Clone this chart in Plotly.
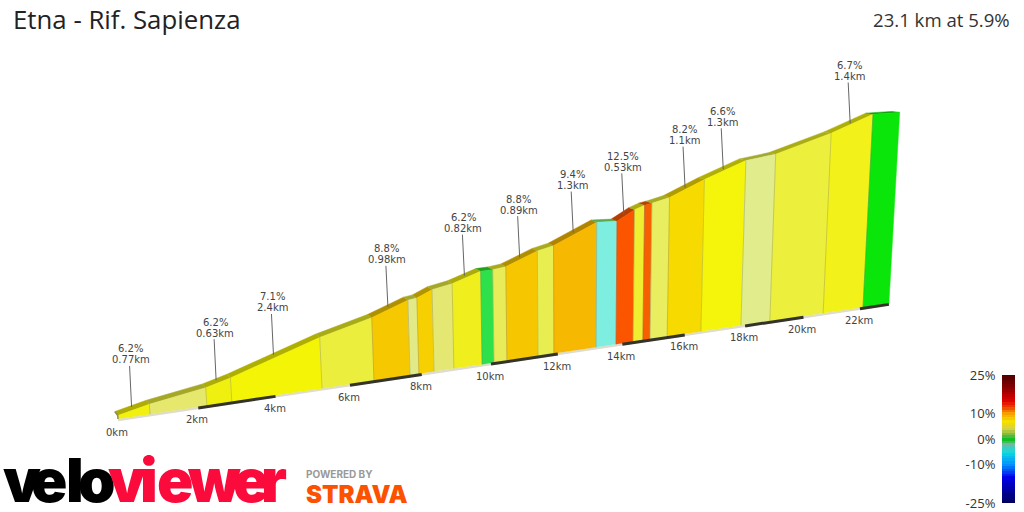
"""
Etna - Rif. Sapienza climb profile, drawn as a leaning 3D style ribbon.
"""

import numpy as np
import plotly.graph_objects as go

title = "Etna - Rif. Sapienza"
summary = "23.1 km at 5.9%"

# Segment boundaries: distance (km) and height above the chart floor (m)
seg_km = [0, 0.79, 2.22, 2.86, 5.24, 6.66, 7.67, 7.92, 8.35, 8.92, 9.74, 10.09, 10.47, 11.4,
          11.88, 13.18, 13.8, 14.34, 14.65, 14.88, 15.43, 16.53, 17.86, 18.84, 20.69, 22.11, 23.05]
seg_elev = [20, 59, 108, 145, 315, 394, 474, 481, 521, 543, 599, 600, 609, 686,
            708, 829, 820, 884, 907, 915, 940, 1037, 1138, 1162, 1271, 1378, 1374]
seg_colors = ["#f2f00f", "#e6e86e", "#f0f010", "#f4f406", "#ecee3e", "#f6c800", "#e2ea88",
              "#f6d000", "#e4e872", "#f0ee1c", "#2ee04a", "#e8ec58", "#f6c600", "#e8ee50",
              "#f6b800", "#7eeee0", "#fb5500", "#f0ee30", "#f66000", "#e8ee60", "#f7da00",
              "#f5f50c", "#e1ec8c", "#ecf03c", "#f2f21a", "#0ae60a"]

# Climbs that get a label, by segment number
climb_segs = [0, 2, 3, 5, 9, 12, 14, 16, 20, 21, 24]
climb_grades = ["6.2%", "6.2%", "7.1%", "8.8%", "6.2%", "8.8%", "9.4%", "12.5%", "8.2%", "6.6%", "6.7%"]
climb_lengths = ["0.77km", "0.63km", "2.4km", "0.98km", "0.82km", "0.89km", "1.3km", "0.53km",
                 "1.1km", "1.3km", "1.4km"]

km_ticks = [0, 2, 4, 6, 8, 10, 12, 14, 16, 18, 20, 22]
km_bands = [(2, 4), (6, 8), (10, 12), (14, 16), (18, 20), (22, 23.05)]

# Legend
legend_ticks = [25, 10, 0, -10, -25]
legend_labels = ["25%", "10%", "0%", "-10%", "-25%"]
legend_grades = list(range(-25, 26))
legend_scale = [[0, "#00005a"], [0.1, "#0000a0"], [0.2, "#0000e8"], [0.3, "#0090ff"], [0.4, "#10dce0"],
                [0.46, "#70b8a0"], [0.5, "#10c020"], [0.52, "#50b840"], [0.58, "#d8d040"],
                [0.64, "#f5e000"], [0.7, "#f5a000"], [0.74, "#f05000"], [0.8, "#e00000"],
                [0.9, "#8b0000"], [1, "#4d0000"]]

# Logo letters
velo_letters = ["v", "e", "l", "o"]
velo_x = [22, 49, 75, 97]
viewer_letters = ["v", "i", "e", "w", "e", "r"]
viewer_x = [127, 149, 175, 214, 251, 274]


# Perspective of the view, the picture is 1024x512
def project(km, elev):
    w = 1 + 0.00968 * km
    x = (42.05 * km + 118) / w
    y = 419 - 0.15 * (x - 118)
    h = 0.17 * elev / w
    return x + (x - 571) * 0.000177 * h, y - h


# Same point on the far side of the ribbon
def project_back(km, elev):
    x, y = project(km, elev)
    return x - 3 - 0.2 * km, y - 4 + 0.13 * km


def project_floor(km):
    return project(km, 0)


def darker(color, f=0.72):
    r, g, b = [int(color[i:i + 2], 16) for i in (1, 3, 5)]
    return "rgb(%d,%d,%d)" % (r * f, g * f, b * f * 0.5)


fig = go.Figure()


def add_poly(points, color):
    xs, ys = zip(*points)
    fig.add_trace(go.Scatter(x=list(xs), y=list(ys), mode="lines", fill="toself", fillcolor=color,
                             line=dict(color=color, width=0.5), hoverinfo="skip", showlegend=False))


# Floor strip
fx0, fy0 = project_floor(seg_km[0])
fx1, fy1 = project_floor(seg_km[-1])
fig.add_trace(go.Scatter(x=[fx0, fx1], y=[fy0 + 1, fy1 + 1], mode="lines",
                         line=dict(color="#dedccf", width=2.5), hoverinfo="skip", showlegend=False))

# Front wall and top face of each segment
for i, color in enumerate(seg_colors):
    k0, k1 = seg_km[i], seg_km[i + 1]
    e0, e1 = seg_elev[i], seg_elev[i + 1]
    add_poly([project_back(k0, e0), project_back(k1, e1), project(k1, e1), project(k0, e0)], darker(color))
    add_poly([project_floor(k0), project(k0, e0), project(k1, e1), project_floor(k1)], color)

# Thin lines between the segments
sep_x, sep_y = [], []
for k, e in zip(seg_km[1:-1], seg_elev[1:-1]):
    bx, by = project_floor(k)
    tx, ty = project(k, e)
    sep_x += [bx, tx, None]
    sep_y += [by, ty, None]
fig.add_trace(go.Scatter(x=sep_x, y=sep_y, mode="lines", line=dict(color="rgba(110,110,90,0.3)", width=1),
                         hoverinfo="skip", showlegend=False))

# Start cap of the ribbon
cap = [project_floor(0), project(0, seg_elev[0]), project_back(0, seg_elev[0])]
fig.add_trace(go.Scatter(x=[p[0] for p in cap], y=[p[1] for p in cap], mode="lines",
                         line=dict(color="#8a8a70", width=1.5), hoverinfo="skip", showlegend=False))

# Black bands along the floor, every other 2km
for a, b in km_bands:
    xa, ya = project_floor(a)
    xb, yb = project_floor(b)
    fig.add_trace(go.Scatter(x=[xa, xb], y=[ya + 1, yb + 1], mode="lines",
                             line=dict(color="#333328", width=3), hoverinfo="skip", showlegend=False))

annotations = []


def add_text(x, y, text, size, color, family="DejaVu Sans", xanchor="center", weight=None):
    annotations.append(dict(x=x, y=y, xref="x", yref="y", text=text, showarrow=False, xanchor=xanchor,
                            yanchor="middle", font=dict(family=family, size=size, color=color, weight=weight)))


for k, label in zip(km_ticks, ["%dkm" % k for k in km_ticks]):
    x, y = project_floor(k)
    add_text(x - 1, y + 13, label, 10, "#444444")

# Climb labels with their lead lines
for seg, grade, length in zip(climb_segs, climb_grades, climb_lengths):
    k_mid = np.mean(seg_km[seg:seg + 2])
    e_mid = np.mean(seg_elev[seg:seg + 2])
    x, y = project_back(k_mid, e_mid)
    x, y = x + 1 + 0.2 * k_mid, y + 1
    fig.add_trace(go.Scatter(x=[x, x - 2], y=[y, y - 41], mode="lines", line=dict(color="#666666", width=1),
                             hoverinfo="skip", showlegend=False))
    add_text(x - 1, y - 58, grade, 10, "#444444")
    add_text(x - 1, y - 47, length, 10, "#444444")

add_text(11, 19, title, 25.8, "#222222", family="Open Sans", xanchor="left")
add_text(1012, 19, summary, 18.6, "#333333", family="Open Sans", xanchor="right")

# Logo
for letter, x in zip(velo_letters, velo_x):
    add_text(x, 480, letter, 60, "#000000", family="Inter", weight=900)
for letter, x in zip(viewer_letters, viewer_x):
    add_text(x, 480, letter, 60, "#fb0a3c", family="Inter", weight=900)
add_text(304, 474, "POWERED BY", 10, "#999999", family="Inter", xanchor="left", weight=700)
add_text(304, 494, "STRAVA", 24, "#fc5200", family="Inter", xanchor="left", weight=900)

# Grade legend, a one column heatmap on its own axes
fig.add_trace(go.Heatmap(x=[0], y=legend_grades, z=[[g] for g in legend_grades], zmin=-25, zmax=25,
                         colorscale=legend_scale, showscale=False, hoverinfo="skip",
                         xaxis="x2", yaxis="y2"))

fig.update_layout(
    width=1024,
    height=512,
    margin=dict(l=0, r=0, t=0, b=0, autoexpand=False),
    paper_bgcolor="white",
    plot_bgcolor="white",
    showlegend=False,
    annotations=annotations,
    xaxis=dict(range=[0, 1024], visible=False, fixedrange=True, automargin=False),
    yaxis=dict(range=[512, 0], visible=False, fixedrange=True, automargin=False),
    xaxis2=dict(domain=[1002 / 1024, 1015 / 1024], anchor="y2", range=[-0.5, 0.5], visible=False, automargin=False),
    yaxis2=dict(domain=[9 / 512, 137 / 512], anchor="x2", range=[-25, 25], side="left", showgrid=False,
                zeroline=False, showline=False, ticks="outside", ticklen=3, tickcolor="rgba(0,0,0,0)",
                tickvals=legend_ticks, ticktext=legend_labels, automargin=False,
                tickfont=dict(family="Open Sans", size=13, color="#333333")),
)

fig.write_html("out.html", config={"displayModeBar": False},
               post_script="document.body.style.margin='0'; document.body.style.overflow='hidden';")
